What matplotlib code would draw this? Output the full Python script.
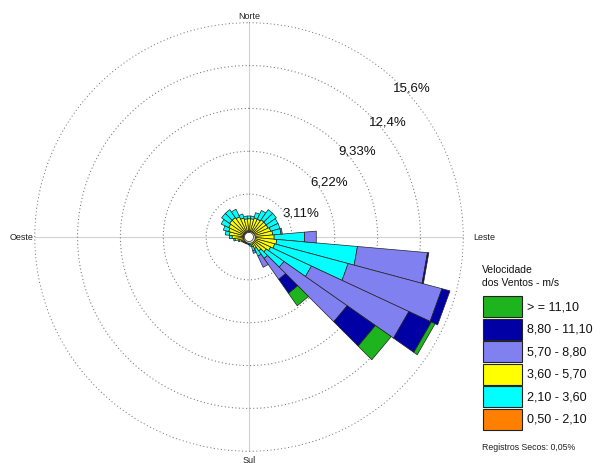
import matplotlib
matplotlib.use("Agg")
import matplotlib.pyplot as plt
from matplotlib.patches import Rectangle
import numpy as np

plt.rcParams['font.family'] = ['Liberation Sans', 'DejaVu Sans']

# direction sectors (compass degrees, 10 deg each)
directions = np.arange(0, 360, 10)

# frequency (%) per speed class, stacked from the centre outwards
orange = [0.1] * 17 + [0.05] * 9 + [0.1] * 10
yellow = [0.9, 0.9, 1.0, 1.0, 1.1, 1.1, 1.1, 1.2, 1.3, 1.4, 1.6, 1.5,
          1.3, 1.1, 0.8, 0.5, 0.3, 0.2, 0.15, 0.1, 0.1, 0.1, 0.1, 0.15,
          0.2, 0.35, 0.6, 0.8, 1.0, 1.1, 1.2, 1.3, 1.3, 1.2, 1.0, 0.9]
cyan = [0.2, 0.2, 0.4, 0.7, 0.9, 0.9, 0.8, 0.7, 0.6, 2.22, 5.87, 5.52,
        3.27, 1.57, 0.67, 0.6, 0.3, 0.1, 0.05, 0.05, 0.05, 0.05, 0.05, 0.05,
        0.05, 0.1, 0.1, 0.2, 0.3, 0.4, 0.6, 0.7, 0.7, 0.6, 0.3, 0.2]
lavender = [0, 0, 0, 0, 0, 0, 0, 0, 0.1, 0.85, 5.1, 7.05,
            7.8, 5.6, 1.86, 0.9, 0.2, 0, 0, 0, 0, 0, 0, 0,
            0, 0, 0, 0, 0, 0, 0, 0, 0, 0, 0, 0]
darkblue = [0, 0, 0, 0, 0, 0, 0, 0, 0, 0, 0.1, 0.6,
            1.8, 2.5, 1.24, 0, 0, 0, 0, 0, 0, 0, 0, 0,
            0, 0, 0, 0, 0, 0, 0, 0, 0, 0, 0, 0]
green = [0, 0, 0, 0, 0, 0, 0, 0, 0, 0, 0, 0,
         0.3, 1.4, 1.1, 0, 0, 0, 0, 0, 0, 0, 0, 0,
         0, 0, 0, 0, 0, 0, 0, 0, 0, 0, 0, 0]

calm_r = 0.33
rings = [3.11, 6.22, 9.33, 12.44, 15.55]
ring_labels = ['3,11%', '6,22%', '9,33%', '12,4%', '15,6%']
ring_label_dir = [54, 48, 46, 46, 44]

classes = ['> = 11,10', '8,80 - 11,10', '5,70 - 8,80',
           '3,60 - 5,70', '2,10 - 3,60', '0,50 - 2,10']
class_colors = ['#1eb41e', '#0000a5', '#8080f0', '#ffff00', '#00ffff', '#ff8000']

fig = plt.figure(figsize=(6.06, 4.64), dpi=100)
ax = fig.add_axes([34 / 606, 11 / 464, 430 / 606, 430 / 464], projection='polar')
ax.set_theta_zero_location('N')
ax.set_theta_direction(-1)
ax.set_ylim(0, 15.6)
ax.set_axis_off()

R = rings[-1]
full = np.linspace(0, 2 * np.pi, 400)

# cross lines and dotted rings
for d in [0, 90, 180, 270]:
    ax.plot([np.radians(d)] * 2, [0, R], color='#d2d2d2', lw=0.8, zorder=1)
for r in rings:
    ax.plot(full, np.full_like(full, r), color='#808080', lw=0.8,
            linestyle=(0, (1, 2.2)), zorder=1)

# stacked petals, flat-ended like the original software draws them
half = np.radians(5)
stack = [(orange, '#ff8000'), (yellow, '#ffff00'), (cyan, '#00ffff'),
         (lavender, '#8080f0'), (darkblue, '#0000a5'), (green, '#1eb41e')]
bottom = np.full(len(directions), calm_r)
for vals, col in stack:
    vals = np.array(vals, dtype=float)
    for d, b, v in zip(directions, bottom, vals):
        if v <= 0:
            continue
        t = np.radians(d)
        ax.fill([t - half, t + half, t + half, t - half], [b, b, b + v, b + v],
                facecolor=col, edgecolor='#222222', linewidth=0.5, zorder=3)
    bottom = bottom + vals

# calm circle
ax.fill_between(full, 0, calm_r, color='white', zorder=4)
ax.plot(full, np.full_like(full, calm_r), color='#444444', lw=0.6, zorder=4)

for r, lab, d in zip(rings, ring_labels, ring_label_dir):
    ax.text(np.radians(d), r * 0.97, lab, ha='left', va='center',
            fontsize=9.5, color='#111111', zorder=5)

ax.text(0, R + 0.55, 'Norte', ha='center', va='center', fontsize=6.5, color='#222222')
ax.text(np.pi, R + 0.6, 'Sul', ha='center', va='center', fontsize=6.5, color='#222222')
ax.text(np.radians(270), R + 0.08, 'Oeste', ha='right', va='center', fontsize=6.5, color='#222222')
ax.text(np.radians(90), R + 0.7, 'Leste', ha='left', va='center', fontsize=6.5, color='#222222')

# legend drawn in pixel space
lg = fig.add_axes([0, 0, 1, 1])
lg.set_xlim(0, 606)
lg.set_ylim(464, 0)
lg.set_axis_off()
lg.patch.set_alpha(0)
lg.text(482, 270, 'Velocidade', fontsize=7.5, va='center', ha='left', color='#111111')
lg.text(482, 283, 'dos Ventos - m/s', fontsize=7.5, va='center', ha='left', color='#111111')
for i, (lab, col) in enumerate(zip(classes, class_colors)):
    top = 297 + i * 22.5
    lg.add_patch(Rectangle((483, top), 39, 21, facecolor=col,
                           edgecolor='#222222', lw=0.8))
    lg.text(527, top + 10.5, lab, fontsize=9, va='center', ha='left', color='#111111')
lg.text(482, 448, 'Registros Secos: 0,05%', fontsize=6.3, va='center', ha='left',
        color='#222222')

fig.savefig('out.png', dpi=100)
